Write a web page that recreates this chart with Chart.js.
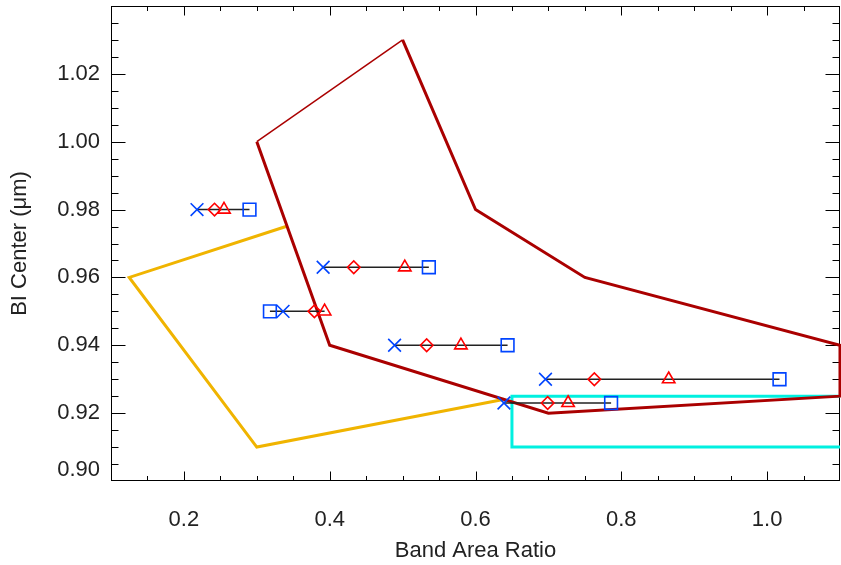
<!DOCTYPE html>
<html>
<head>
<meta charset="utf-8">
<title>BI Center vs Band Area Ratio</title>
<script src="https://cdn.jsdelivr.net/npm/chart.js@4.4.1/dist/chart.umd.min.js"></script>
<style>
  html, body { margin: 0; padding: 0; background: #fff; }
  #wrap { width: 841px; height: 565px; }
</style>
</head>
<body>
<div id="wrap"><canvas id="bandChart" width="841" height="565"></canvas></div>
<script>
/* ============================
   DATOS
============================ */
// filas de muestras: una fila por centro de banda
const rowY      = [0.980, 0.963, 0.950, 0.940, 0.930, 0.923];
const crossX    = [0.218, 0.391, 0.336, 0.489, 0.696, 0.639];
const diamondX  = [0.242, 0.433, 0.379, 0.533, 0.763, 0.699];
const triangleX = [0.255, 0.503, 0.393, 0.580, 0.865, 0.727];
const squareX   = [0.290, 0.536, 0.318, 0.644, 1.017, 0.786];

// campos (poligonos)
const redX  = [0.50, 0.60, 0.75, 1.10, 1.10,  0.70, 0.40, 0.30];
const redY  = [1.03, 0.98, 0.96, 0.94, 0.925, 0.92, 0.94, 1.00];
const goldX = [0.34,  0.125, 0.30, 0.638];
const goldY = [0.975, 0.96,  0.91, 0.924];
const cyanX = [1.10,  0.65,  0.65, 1.10];
const cyanY = [0.925, 0.925, 0.91, 0.91];

// ejes
const xTicks = [0.2, 0.4, 0.6, 0.8, 1.0];
const yTicks = [0.90, 0.92, 0.94, 0.96, 0.98, 1.00, 1.02];
const X_MIN = 0.1, X_MAX = 1.1, X_MINOR = 0.05;
const Y_MIN = 0.90, Y_MAX = 1.04, Y_MINOR = 0.005;

/* ============================
   HELPERS
============================ */
const FONT = '"Liberation Sans", Arial, Helvetica, sans-serif';
const TEXT = '#222';
const BLUE = '#0044ff';
const RED = '#ff0000';
const DARKRED = '#aa0000';

function pts(xs, ys) {
    return xs.map((x, i) => ({ x, y: Array.isArray(ys) ? ys[i] : ys }));
}

function markers(xs, style, radius, color) {
    return {
        data: pts(xs, rowY),
        showLine: false,
        pointStyle: style,
        pointRadius: radius,
        pointBorderColor: color,
        pointBackgroundColor: 'rgba(0,0,0,0)',
        pointBorderWidth: 1.6
    };
}

function line(data, color, width, extra = {}) {
    return Object.assign({
        data,
        showLine: true,
        pointRadius: 0,
        borderColor: color,
        borderWidth: width,
        borderJoinStyle: 'miter',
        tension: 0
    }, extra);
}

// segmento negro de cada fila, del menor al mayor
const rowLines = rowY.map((y, i) => {
    const xs = [crossX[i], diamondX[i], triangleX[i], squareX[i]];
    return line([{ x: Math.min(...xs), y }, { x: Math.max(...xs), y }], '#222', 1.5);
});

// sin relleno extra de etiquetas: el area del grafico va fija
function noPadding(s) {
    s.paddingTop = s.paddingBottom = s.paddingLeft = s.paddingRight = 0;
}

/* ============================
   MARCO Y TICKS HACIA DENTRO
============================ */
const frameTicks = {
    id: 'frameTicks',
    beforeDatasetsDraw(chart) {
        const { ctx, chartArea: a, scales: { x, y } } = chart;
        const L = Math.round(a.left) + 0.5, R = Math.round(a.right) - 0.5;
        const T = Math.round(a.top) + 0.5,  B = Math.round(a.bottom) - 0.5;
        ctx.save();
        ctx.strokeStyle = '#000';
        ctx.lineWidth = 1;
        ctx.strokeRect(L, T, R - L, B - T);
        ctx.beginPath();
        const nx = Math.round((X_MAX - X_MIN) / X_MINOR);
        for (let k = 1; k < nx; k++) {
            const v = X_MIN + k * X_MINOR;
            const major = xTicks.some(t => Math.abs(t - v) < 1e-6);
            const len = major ? 9 : 4.5;
            const px = Math.round(x.getPixelForValue(v)) + 0.5;
            ctx.moveTo(px, B); ctx.lineTo(px, B - len);
            ctx.moveTo(px, T); ctx.lineTo(px, T + len);
        }
        const ny = Math.round((Y_MAX - Y_MIN) / Y_MINOR);
        for (let k = 1; k < ny; k++) {
            const v = Y_MIN + k * Y_MINOR;
            const major = yTicks.some(t => Math.abs(t - v) < 1e-6);
            const len = major ? 14 : 7;
            const py = Math.round(y.getPixelForValue(v)) + 0.5;
            ctx.moveTo(L, py); ctx.lineTo(L + len, py);
            ctx.moveTo(R, py); ctx.lineTo(R - len, py);
        }
        ctx.stroke();
        ctx.restore();
    }
};

/* ============================
   RENDER
============================ */
const datasets = [
    markers(crossX, 'crossRot', 9, BLUE),
    markers(squareX, 'rect', 9, BLUE),
    markers(diamondX, 'rectRot', 6.3, RED),
    markers(triangleX, 'triangle', 7.2, RED),
    ...rowLines,
    line(pts(redX, redY), DARKRED, 3, { clip: false }),
    line([pts(redX, redY).slice(-1)[0], pts(redX, redY)[0]], DARKRED, 1.5),
    line(pts(cyanX, cyanY), '#00f0e0', 3, { clip: false }),
    line(pts(goldX, goldY), '#f0b400', 3)
];

new Chart(document.getElementById('bandChart').getContext('2d'), {
    type: 'scatter',
    data: { datasets },
    options: {
        responsive: false,
        animation: false,
        events: [],
        layout: { autoPadding: false, padding: { top: 6, right: 1, left: 0, bottom: 0 } },
        plugins: { legend: { display: false }, tooltip: { enabled: false } },
        scales: {
            x: {
                type: 'linear',
                min: X_MIN,
                max: X_MAX,
                grid: { display: false, drawTicks: false },
                border: { display: false },
                afterBuildTicks: s => { s.ticks = xTicks.map(v => ({ value: v })); },
                afterFit: s => { s.height = 84; noPadding(s); },
                ticks: {
                    padding: 28,
                    color: TEXT,
                    font: { family: FONT, size: 22, lineHeight: 1 },
                    callback: v => Number(v).toFixed(1)
                },
                title: {
                    display: true,
                    text: 'Band Area Ratio',
                    color: TEXT,
                    font: { family: FONT, size: 22 },
                    padding: { top: 0, bottom: 1 }
                }
            },
            y: {
                type: 'linear',
                min: Y_MIN,
                max: Y_MAX,
                grid: { display: false, drawTicks: false },
                border: { display: false },
                afterBuildTicks: s => { s.ticks = yTicks.map(v => ({ value: v })); },
                afterFit: s => { s.width = 111; noPadding(s); },
                ticks: {
                    padding: 11,
                    color: TEXT,
                    font: { family: FONT, size: 22, lineHeight: 1 },
                    // la etiqueta inferior va un poco mas arriba
                    callback: v => {
                        const s = Number(v).toFixed(2);
                        return Math.abs(v - Y_MIN) < 1e-9 ? [s, ''] : s;
                    }
                },
                title: {
                    display: true,
                    text: 'BI Center (μm)',
                    color: TEXT,
                    font: { family: FONT, size: 22 },
                    padding: { top: 7, bottom: 0 }
                }
            }
        }
    },
    plugins: [frameTicks]
});
</script>
</body>
</html>
